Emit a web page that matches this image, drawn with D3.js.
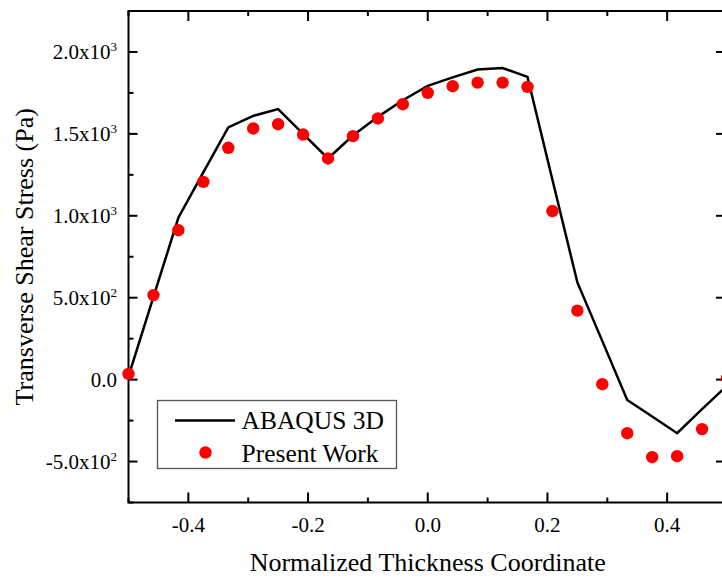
<!DOCTYPE html>
<html>
<head>
<meta charset="utf-8">
<script src="https://cdn.jsdelivr.net/npm/d3@7"></script>
<style>
  body { margin: 0; background: #fff; }
  svg { display: block; font-family: "Liberation Serif", "Times New Roman", serif; }
</style>
</head>
<body>
<svg id="chart" width="722" height="578"></svg>
<script>
// normalized thickness coordinate
let thickness = [-0.5, -0.4583, -0.4167, -0.375, -0.3333, -0.2917, -0.25, -0.2083, -0.1667,
    -0.125, -0.0833, -0.0417, 0.0, 0.0417, 0.0833, 0.125, 0.1667, 0.2083, 0.25,
    0.2917, 0.3333, 0.375, 0.4167, 0.4583, 0.5];

// ABAQUS 3D (line)
let abaqus = [20, 505, 988, 1265, 1539, 1610, 1651, 1500, 1350, 1490, 1604, 1705,
    1793, 1845, 1893, 1902, 1848, 1220, 593, 235, -124, -225, -327, -180, -37];

// Present work (dots)
let present = [35, 516, 912, 1207, 1415, 1533, 1559, 1496, 1350, 1486, 1594, 1681,
    1750, 1791, 1813, 1813, 1787, 1029, 421, -28, -327, -473, -467, -302, 10];

let x_ticks = [-0.4, -0.2, 0.0, 0.2, 0.4];
let x_tick_labels = ["-0.4", "-0.2", "0.0", "0.2", "0.4"];
let x_minor = [-0.5, -0.3, -0.1, 0.1, 0.3, 0.5];
let y_ticks = [-500, 0, 500, 1000, 1500, 2000];
let y_tick_base = ["-5.0x10", "0.0", "5.0x10", "1.0x10", "1.5x10", "2.0x10"];
let y_tick_exp = ["2", "", "2", "3", "3", "3"];
let y_minor = [-750, -250, 250, 750, 1250, 1750, 2250];
let legend_labels = ["ABAQUS 3D", "Present Work"];

function render_chart(svg) {
    let left = 128.5, right = 727, top = 11, bottom = 502.5;

    let x = d3.scaleLinear().domain([-0.5, 0.5]).range([left, right]);
    let y = d3.scaleLinear().domain([-750, 2250]).range([bottom, top]);

    let axes = svg.append("g").attr("class", "axes");

    // frame
    axes.append("rect")
        .attr("x", left).attr("y", top)
        .attr("width", right - left).attr("height", bottom - top)
        .attr("fill", "none").attr("stroke", "#000").attr("stroke-width", 2);

    // x ticks, inward on bottom and top
    let xmaj = axes.selectAll(".xmaj").data(x_ticks).enter();
    xmaj.append("line")
        .attr("x1", d => x(d)).attr("x2", d => x(d))
        .attr("y1", bottom).attr("y2", bottom - 10)
        .attr("stroke", "#000").attr("stroke-width", 2);
    xmaj.append("line")
        .attr("x1", d => x(d)).attr("x2", d => x(d))
        .attr("y1", top).attr("y2", top + 10)
        .attr("stroke", "#000").attr("stroke-width", 2);
    let xmin = axes.selectAll(".xmin").data(x_minor).enter();
    xmin.append("line")
        .attr("x1", d => x(d)).attr("x2", d => x(d))
        .attr("y1", bottom).attr("y2", bottom - 5)
        .attr("stroke", "#000").attr("stroke-width", 2);
    xmin.append("line")
        .attr("x1", d => x(d)).attr("x2", d => x(d))
        .attr("y1", top).attr("y2", top + 5)
        .attr("stroke", "#000").attr("stroke-width", 2);

    axes.selectAll(".xlab").data(x_ticks).enter().append("text")
        .attr("x", d => x(d)).attr("y", 532)
        .attr("text-anchor", "middle")
        .attr("font-size", 21)
        .text((d, i) => x_tick_labels[i]);

    // y ticks, inward on left and right
    let ymaj = axes.selectAll(".ymaj").data(y_ticks).enter();
    ymaj.append("line")
        .attr("x1", left).attr("x2", left + 9)
        .attr("y1", d => y(d)).attr("y2", d => y(d))
        .attr("stroke", "#000").attr("stroke-width", 2);
    ymaj.append("line")
        .attr("x1", right).attr("x2", right - 11)
        .attr("y1", d => y(d)).attr("y2", d => y(d))
        .attr("stroke", "#000").attr("stroke-width", 2);
    let ymin = axes.selectAll(".ymin").data(y_minor).enter();
    ymin.append("line")
        .attr("x1", left).attr("x2", left + 5)
        .attr("y1", d => y(d)).attr("y2", d => y(d))
        .attr("stroke", "#000").attr("stroke-width", 2);
    ymin.append("line")
        .attr("x1", right).attr("x2", right - 5)
        .attr("y1", d => y(d)).attr("y2", d => y(d))
        .attr("stroke", "#000").attr("stroke-width", 2);

    let ylab = axes.selectAll(".ylab").data(y_ticks).enter().append("text")
        .attr("x", 117).attr("y", d => y(d) + 7.5)
        .attr("text-anchor", "end")
        .attr("font-size", 21);
    ylab.append("tspan").text((d, i) => y_tick_base[i]);
    ylab.append("tspan")
        .attr("dy", -8)
        .attr("font-size", 13)
        .text((d, i) => y_tick_exp[i]);

    // axis titles
    svg.append("text")
        .attr("x", (left + right) / 2).attr("y", 571)
        .attr("text-anchor", "middle").attr("font-size", 26)
        .text("Normalized Thickness Coordinate");
    svg.append("text")
        .attr("transform", "translate(33," + ((top + bottom) / 2) + ") rotate(-90)")
        .attr("text-anchor", "middle").attr("font-size", 26)
        .text("Transverse Shear Stress (Pa)");

    // ABAQUS line
    let line = d3.line()
        .x((d, i) => x(thickness[i]))
        .y(d => y(d));
    svg.append("path")
        .datum(abaqus)
        .attr("d", line)
        .attr("fill", "none")
        .attr("stroke", "#000")
        .attr("stroke-width", 2.5)
        .attr("stroke-linejoin", "miter");

    // present work dots
    svg.append("g").selectAll("circle")
        .data(present)
        .enter().append("circle")
        .attr("cx", (d, i) => x(thickness[i]))
        .attr("cy", d => y(d))
        .attr("r", 6.2)
        .attr("fill", "#ff0000");

    // legend
    let lg = svg.append("g");
    lg.append("rect")
        .attr("x", 157.5).attr("y", 400.5)
        .attr("width", 239).attr("height", 68)
        .attr("fill", "#fff").attr("stroke", "#555").attr("stroke-width", 1.3);
    lg.append("line")
        .attr("x1", 175).attr("x2", 235)
        .attr("y1", 420.5).attr("y2", 420.5)
        .attr("stroke", "#000").attr("stroke-width", 2.5);
    lg.append("circle")
        .attr("cx", 205.5).attr("cy", 452.5).attr("r", 6.2)
        .attr("fill", "#ff0000");
    lg.selectAll("text").data(legend_labels).enter().append("text")
        .attr("x", 241.5).attr("y", (d, i) => 429 + i * 33)
        .attr("font-size", 25.5)
        .text(d => d);
}

render_chart(d3.select("#chart"));
</script>
</body>
</html>
